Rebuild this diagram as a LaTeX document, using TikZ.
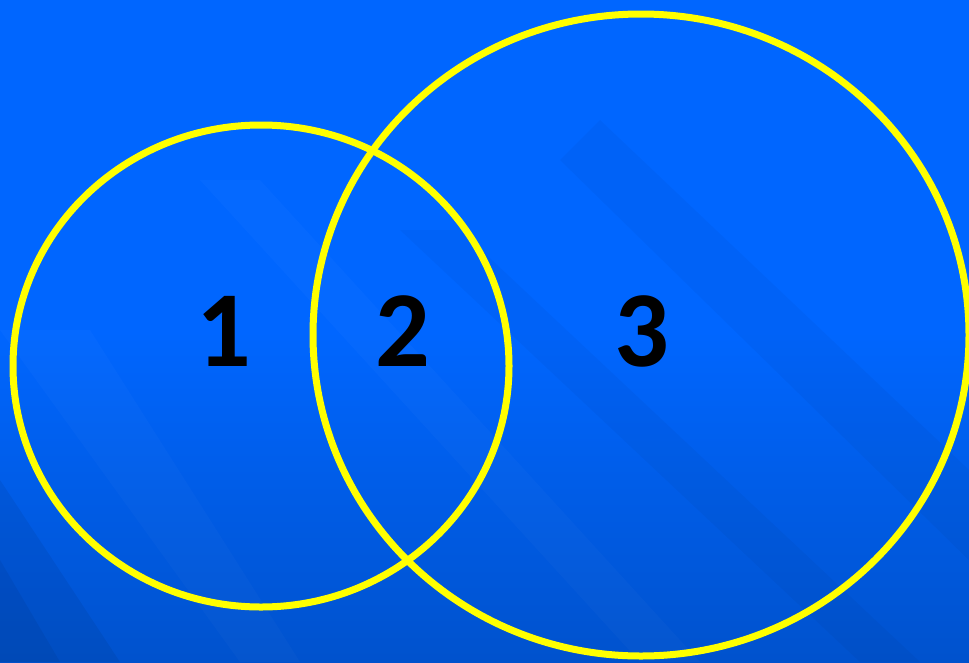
\documentclass[tikz,border=0pt]{standalone}
\usepackage{fontspec}
\setmainfont{Carlito}
\usetikzlibrary{shapes.geometric}
\definecolor{bgtop}{RGB}{0,102,255}
\definecolor{bgbot}{RGB}{0,82,205}
\definecolor{ring}{RGB}{255,255,0}
\tikzset{
  ringline/.style={draw=ring, line width=7pt, ellipse, inner sep=0pt},
  digit/.style={font=\bfseries\fontsize{108}{108}\selectfont, text=black, inner sep=0pt, anchor=base},
  streak/.style={fill=white, opacity=0.02}
}
\begin{document}
\begin{tikzpicture}[x=1pt,y=-1pt]
  \useasboundingbox (0,0) rectangle (969,662);
  \shade[top color=bgtop, bottom color=bgbot, middle color=bgtop] (0,0) rectangle (969,662);
  \begin{scope}
    \clip (0,0) rectangle (969,662);
    \fill[black, opacity=0.06] (0,480) -- (120,662) -- (0,662) -- cycle;
    \fill[streak] (0,330) -- (90,330) -- (300,662) -- (240,662) -- cycle;
    \fill[black, opacity=0.05] (0,560) -- (60,662) -- (0,662) -- cycle;
    \fill[black, opacity=0.03] (600,120) -- (969,470) -- (969,560) -- (560,160) -- cycle;
    \fill[streak] (200,180) -- (260,180) -- (700,662) -- (640,662) -- cycle;
    \fill[black, opacity=0.03] (400,230) -- (460,230) -- (920,662) -- (860,662) -- cycle;
  \end{scope}
  \node[ringline, minimum width=496pt, minimum height=482pt] (c1) at (261,366) {};
  \node[ringline, minimum width=656pt, minimum height=642pt] (c2) at (641,335) {};
  \node[digit] (n1) at (224,366) {1};
  \node[digit] (n2) at (403,366) {2};
  \node[digit] (n3) at (642,366) {3};
\end{tikzpicture}
\end{document}
